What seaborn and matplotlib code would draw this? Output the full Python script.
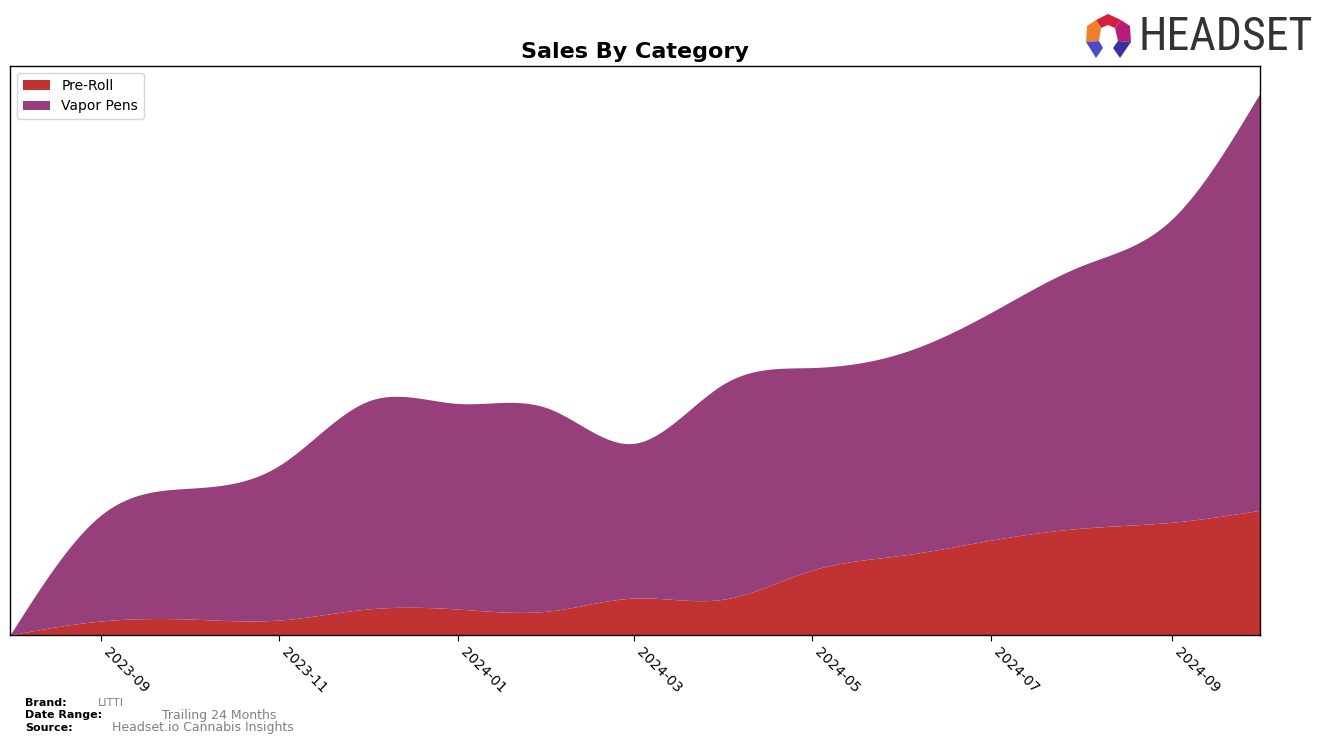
import numpy as np
import pandas as pd
import matplotlib
matplotlib.use("Agg")
import matplotlib.pyplot as plt
import matplotlib.dates as mdates
from matplotlib import font_manager
from matplotlib.patches import Polygon
import seaborn as sns

# ---- data (arbitrary units) ----
months = ["2023-08", "2023-09", "2023-10", "2023-11", "2023-12", "2024-01", "2024-02",
          "2024-03", "2024-04", "2024-05", "2024-06", "2024-07", "2024-08", "2024-09", "2024-10"]
pre_roll = [0, 14, 16, 15, 26, 26, 24, 37, 36, 65, 80, 95, 107, 113, 125]
vapor_pens = [0, 106, 131, 155, 208, 206, 203, 155, 216, 203, 203, 228, 263, 304, 418]
categories = ["Pre-Roll", "Vapor Pens"]
colors = ["#C13333", "#963F7A"]

brand = "LITTI"
date_range = "Trailing 24 Months"
source = "Headset.io Cannabis Insights"


def natural_spline(x, y, xs):
    x = np.asarray(x, float)
    y = np.asarray(y, float)
    n = len(x)
    h = np.diff(x)
    A = np.zeros((n, n))
    b = np.zeros(n)
    A[0, 0] = 1
    A[-1, -1] = 1
    for i in range(1, n - 1):
        A[i, i - 1] = h[i - 1]
        A[i, i] = 2 * (h[i - 1] + h[i])
        A[i, i + 1] = h[i]
        b[i] = 3 * ((y[i + 1] - y[i]) / h[i] - (y[i] - y[i - 1]) / h[i - 1])
    c = np.linalg.solve(A, b)
    out = np.empty_like(xs, dtype=float)
    idx = np.clip(np.searchsorted(x, xs) - 1, 0, n - 2)
    for k, xv in enumerate(xs):
        i = idx[k]
        dx = xv - x[i]
        bi = (y[i + 1] - y[i]) / h[i] - h[i] * (2 * c[i] + c[i + 1]) / 3
        di = (c[i + 1] - c[i]) / (3 * h[i])
        out[k] = y[i] + bi * dx + c[i] * dx ** 2 + di * dx ** 3
    return out


df = pd.DataFrame({"month": pd.to_datetime(months), "Pre-Roll": pre_roll, "Vapor Pens": vapor_pens})
xnum = mdates.date2num(df["month"])
xs = np.linspace(xnum[0], xnum[-1], 600)
smooth = [np.clip(natural_spline(xnum, df[c], xs), 0, None) for c in categories]

sns.set_style("ticks")
plt.rcParams["font.family"] = ["DejaVu Sans"]
plt.rcParams["text.color"] = "black"
plt.rcParams["axes.labelcolor"] = "black"
plt.rcParams["xtick.color"] = "black"
plt.rcParams["ytick.color"] = "black"
plt.rcParams["axes.edgecolor"] = "black"

fig = plt.figure(figsize=(13.24, 7.44), dpi=100)
ax = fig.add_axes([10 / 1324, 1 - 635 / 744, 1250 / 1324, 569 / 744])
ax.stackplot(xs, *smooth, labels=categories, colors=colors, linewidth=0)
ax.set_xlim(xnum[0], xnum[-1])
ax.set_ylim(0, None)
ax.margins(x=0)
ax.xaxis.set_major_locator(mdates.MonthLocator(bymonth=[1, 3, 5, 7, 9, 11]))
ax.xaxis.set_major_formatter(mdates.DateFormatter("%Y-%m"))
ax.set_yticks([])
for lab in ax.get_xticklabels():
    lab.set_rotation(-45)
    lab.set_ha("left")
    lab.set_fontsize(10)
    lab.set_color("black")
for s in ax.spines.values():
    s.set_visible(True)
    s.set_color("black")
    s.set_linewidth(1)
ax.tick_params(axis="x", direction="out", length=4, color="black", labelcolor="black")
ax.set_title("Sales By Category", fontsize=16, fontweight="bold", pad=6, color="black")
leg = ax.legend(loc="upper left", fontsize=10, frameon=True)
for t in leg.get_texts():
    t.set_color("black")

# footer
fig.text(25 / 1324, 1 - 703 / 744, "Brand:", fontsize=8, fontweight="bold", va="center", color="black")
fig.text(98 / 1324, 1 - 703 / 744, brand, fontsize=8, color="gray", va="center")
fig.text(25 / 1324, 1 - 715 / 744, "Date Range:", fontsize=8, fontweight="bold", va="center", color="black")
fig.text(162 / 1324, 1 - 715 / 744, date_range, fontsize=9, color="gray", va="center")
fig.text(25 / 1324, 1 - 728 / 744, "Source:", fontsize=8, fontweight="bold", va="center", color="black")
fig.text(112 / 1324, 1 - 728 / 744, source, fontsize=9, color="gray", va="center")

# logo
available = {f.name for f in font_manager.fontManager.ttflist}
logo_font = "DejaVu Sans"
for cand in ["Liberation Sans Narrow", "DejaVu Sans Condensed", "Roboto Condensed", "Open Sans Condensed", "Roboto"]:
    if cand in available:
        logo_font = cand
        break
fig.text(1139 / 1324, 1 - 37 / 744, "HEADSET", fontsize=33, color="#333333",
         family=logo_font, va="center", ha="left")


def P(pts):
    return [(px / 1324, 1 - py / 744) for px, py in pts]


logo_parts = [
    ([(1096, 20), (1108, 14), (1121, 20), (1115, 28), (1108, 25), (1101, 28)], "#D4203A"),
    ([(1096, 20), (1101, 28), (1099, 41), (1086, 42), (1087, 26)], "#F07F2A"),
    ([(1121, 20), (1130, 26), (1131, 42), (1118, 41), (1115, 28)], "#B81C78"),
    ([(1086, 42), (1099, 41), (1103, 48), (1096, 58)], "#4B4BC9"),
    ([(1131, 42), (1118, 41), (1113, 48), (1120, 58)], "#35349E"),
]
for pts, col in logo_parts:
    fig.patches.append(Polygon(P(pts), closed=True, facecolor=col, edgecolor="none",
                               transform=fig.transFigure, figure=fig))

fig.savefig("out.png", dpi=100)
